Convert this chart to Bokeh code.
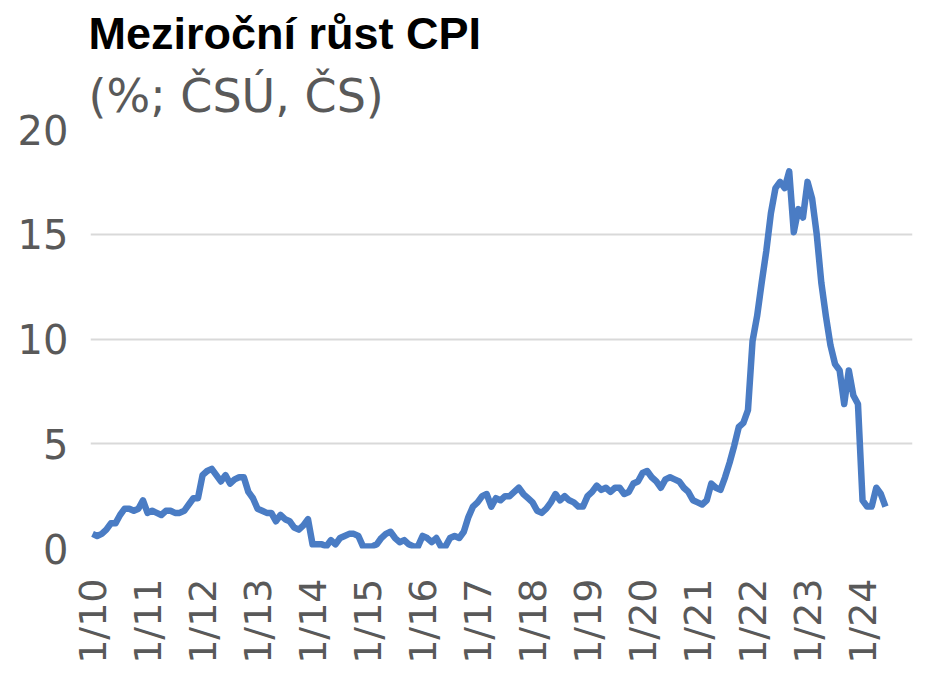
from bokeh.plotting import figure
from bokeh.models import Range1d, FixedTicker, Title, ColumnDataSource
from bokeh.embed import file_html
from bokeh.resources import INLINE
import math

# Meziroční růst CPI (%), monthly, 1/2010 - 6/2024
cpi_2010 = [0.7, 0.6, 0.7, 0.9, 1.2, 1.2, 1.6, 1.9, 1.9, 1.8, 1.9, 2.3]
cpi_2011 = [1.7, 1.8, 1.7, 1.6, 1.8, 1.8, 1.7, 1.7, 1.8, 2.1, 2.4, 2.4]
cpi_2012 = [3.5, 3.7, 3.8, 3.5, 3.2, 3.5, 3.1, 3.3, 3.4, 3.4, 2.7, 2.4]
cpi_2013 = [1.9, 1.8, 1.7, 1.7, 1.3, 1.6, 1.4, 1.3, 1.0, 0.9, 1.1, 1.4]
cpi_2014 = [0.2, 0.2, 0.2, 0.1, 0.4, 0.2, 0.5, 0.6, 0.7, 0.7, 0.6, 0.1]
cpi_2015 = [0.1, 0.1, 0.2, 0.5, 0.7, 0.8, 0.5, 0.3, 0.4, 0.2, 0.1, 0.1]
cpi_2016 = [0.6, 0.5, 0.3, 0.5, 0.1, 0.1, 0.5, 0.6, 0.5, 0.8, 1.5, 2.0]
cpi_2017 = [2.2, 2.5, 2.6, 2.0, 2.4, 2.3, 2.5, 2.5, 2.7, 2.9, 2.6, 2.4]
cpi_2018 = [2.2, 1.8, 1.7, 1.9, 2.2, 2.6, 2.3, 2.5, 2.3, 2.2, 2.0, 2.0]
cpi_2019 = [2.5, 2.7, 3.0, 2.8, 2.9, 2.7, 2.9, 2.9, 2.6, 2.7, 3.1, 3.2]
cpi_2020 = [3.6, 3.7, 3.4, 3.2, 2.9, 3.3, 3.4, 3.3, 3.2, 2.9, 2.7, 2.3]
cpi_2021 = [2.2, 2.1, 2.3, 3.1, 2.9, 2.8, 3.4, 4.1, 4.9, 5.8, 6.0, 6.6]
cpi_2022 = [9.9, 11.1, 12.7, 14.2, 16.0, 17.2, 17.5, 17.2, 18.0, 15.1, 16.2, 15.8]
cpi_2023 = [17.5, 16.7, 15.0, 12.7, 11.1, 9.7, 8.8, 8.5, 6.9, 8.5, 7.3, 6.9]
cpi_2024 = [2.3, 2.0, 2.0, 2.9, 2.6, 2.0]

years = [2010, 2011, 2012, 2013, 2014, 2015, 2016, 2017, 2018, 2019, 2020, 2021, 2022, 2023, 2024]
tick_labels = ["1/10", "1/11", "1/12", "1/13", "1/14", "1/15", "1/16", "1/17",
               "1/18", "1/19", "1/20", "1/21", "1/22", "1/23", "1/24"]
y_ticks = [0, 5, 10, 15, 20]

cpi = (cpi_2010 + cpi_2011 + cpi_2012 + cpi_2013 + cpi_2014 + cpi_2015 + cpi_2016 +
       cpi_2017 + cpi_2018 + cpi_2019 + cpi_2020 + cpi_2021 + cpi_2022 + cpi_2023 + cpi_2024)
month_idx = list(range(len(cpi)))
year_ticks = [(y - years[0]) * 12 for y in years]

source = ColumnDataSource(dict(x=month_idx, y=cpi))

p = figure(frame_width=822, frame_height=419, output_backend="svg", toolbar_location=None,
           x_range=Range1d(-0.45, 178.9), y_range=Range1d(0, 20),
           min_border_left=90, min_border_right=3, min_border_top=129, min_border_bottom=110)

p.add_layout(Title(text="(%; ČSÚ, ČS)", align="left", text_font="DejaVu Sans",
                   text_font_size="46px", text_font_style="normal", text_color="#595959",
                   standoff=13, offset=-2), "above")
p.add_layout(Title(text="Meziroční růst CPI", align="left", text_font="Liberation Sans",
                   text_font_size="45px", text_font_style="bold", text_color="#000000",
                   standoff=4, offset=-2), "above")

p.line("x", "y", source=source, line_color="#4a7cc4", line_width=6.5, line_join="round")

p.outline_line_color = None
p.xgrid.grid_line_color = None
p.ygrid.grid_line_color = "#d9d9d9"
p.ygrid.grid_line_width = 2

p.yaxis.ticker = FixedTicker(ticks=y_ticks)
p.xaxis.ticker = FixedTicker(ticks=year_ticks)
p.xaxis.major_label_overrides = {t: l for t, l in zip(year_ticks, tick_labels)}
p.xaxis.major_label_orientation = math.pi / 2

for ax in (p.xaxis, p.yaxis):
    ax.axis_line_color = None
    ax.major_tick_line_color = None
    ax.minor_tick_line_color = None
    ax.major_tick_in = 0
    ax.major_tick_out = 0
    ax.major_label_text_font = "DejaVu Sans"
    ax.major_label_text_color = "#595959"

p.yaxis.major_label_text_font_size = "40px"
p.xaxis.major_label_text_font_size = "38px"
p.yaxis.major_label_standoff = 22
p.xaxis.major_label_standoff = 30

open("out.html", "w").write(file_html(p, INLINE))
